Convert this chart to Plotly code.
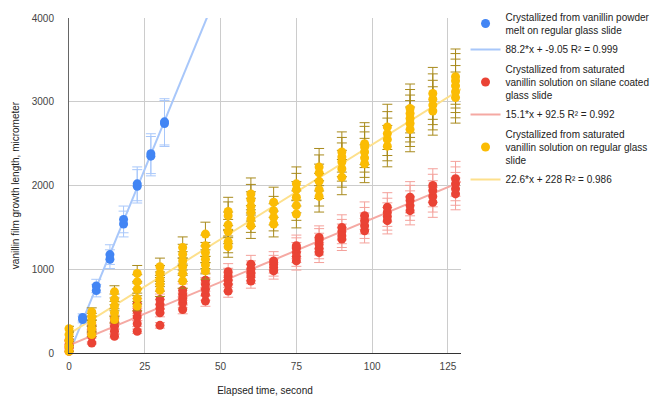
import plotly.graph_objects as go

# ---------------- data ----------------
blue_times = [4.5, 9, 13.5, 18, 22.5, 27, 31.5]
blue_values = [[400, 425], [745, 800], [1120, 1175], [1540, 1595], [1990, 2020], [2350, 2380], [2740, 2760]]

ry_times = [0, 7.5, 15, 22.5, 30, 37.5, 45, 52.5, 60, 67.5, 75, 82.5, 90, 97.5, 105, 112.5, 120, 127.5]
red_values = [
    [20, 60, 100, 150],
    [120, 200, 260, 310],
    [200, 260, 320, 370, 410],
    [260, 350, 430, 500, 590],
    [330, 480, 530, 580, 640],
    [520, 600, 650, 700, 750],
    [620, 700, 760, 820, 870],
    [740, 820, 870, 920, 970],
    [860, 920, 960, 1000, 1060],
    [980, 1020, 1060, 1100],
    [1100, 1150, 1200, 1250, 1280],
    [1200, 1250, 1300, 1350, 1380],
    [1360, 1400, 1450, 1500],
    [1460, 1520, 1580, 1640],
    [1580, 1630, 1680, 1740],
    [1700, 1760, 1820, 1860],
    [1800, 1870, 1940, 2000],
    [1900, 1960, 2020, 2080],
]
yellow_values = [
    [20, 80, 150, 220, 290],
    [220, 290, 360, 430, 490],
    [400, 480, 560, 640, 730],
    [560, 650, 760, 850, 950],
    [750, 820, 880, 950, 1030],
    [860, 950, 1030, 1100, 1180, 1260],
    [980, 1050, 1120, 1200, 1280, 1420],
    [1270, 1330, 1450, 1530, 1640, 1690],
    [1520, 1600, 1680, 1750, 1830, 1900],
    [1540, 1620, 1700, 1800],
    [1660, 1760, 1860, 1950, 2020],
    [1870, 1950, 2050, 2150, 2220],
    [2100, 2200, 2280, 2340, 2400],
    [2260, 2330, 2400, 2460, 2500],
    [2470, 2550, 2620, 2700],
    [2670, 2740, 2800, 2860, 2920],
    [2890, 2960, 3030, 3100],
    [3050, 3120, 3190, 3250, 3300],
]
error_percent = 10

blue_fit = (88.2, -9.05)
red_fit = (15.1, 92.5)
yellow_fit = (22.6, 228)

series_names = [
    "Crystallized from vanillin powder<br>melt on regular glass slide",
    "Crystallized from saturated<br>vanillin solution on silane coated<br>glass slide",
    "Crystallized from saturated<br>vanillin solution on regular glass<br>slide",
]
fit_names = [
    "88.2*x + -9.05 R² = 0.999",
    "15.1*x + 92.5 R² = 0.992",
    "22.6*x + 228 R² = 0.986",
]
x_ticks = [0, 25, 50, 75, 100, 125]
y_ticks = [0, 1000, 2000, 3000, 4000]
x_max = 129.3
y_max = 4000

# ---------------- styling ----------------
FONT = "Liberation Sans, Arial, sans-serif"
colors = ["#4285F4", "#EA4335", "#FBBC04"]
fit_colors = ["#A8C7FA", "#F5A9A3", "#FDE08C"]
err_colors = ["#A8C7FA", "#F4A19B", "#A88A1C"]


def flatten(times, values):
    xs, ys = [], []
    for t, vals in zip(times, values):
        for v in vals:
            xs.append(t)
            ys.append(v)
    return xs, ys


fig = go.Figure()

fits = [blue_fit, red_fit, yellow_fit]
# trendlines first (drawn beneath points)
for i, (m, b) in enumerate(fits):
    fx = [0, x_max]
    fy = [m * x + b for x in fx]
    fig.add_trace(go.Scatter(
        x=fx, y=fy, mode="lines", name=fit_names[i],
        line=dict(color=fit_colors[i], width=2),
        legendrank=2 * i + 2, legendgroup="f%d" % i,
        hoverinfo="skip",
    ))

datasets = [(blue_times, blue_values), (ry_times, red_values), (ry_times, yellow_values)]
for i, (t, v) in enumerate(datasets):
    xs, ys = flatten(t, v)
    fig.add_trace(go.Scatter(
        x=xs, y=ys, mode="markers", name=series_names[i],
        marker=dict(color=colors[i], size=9, line=dict(width=0)),
        error_y=dict(type="percent", value=error_percent, color=err_colors[i],
                     thickness=1, width=5),
        legendrank=2 * i + 1, legendgroup="s%d" % i,
        cliponaxis=False,
    ))

fig.update_layout(
    width=652, height=396,
    margin=dict(l=69, r=191, t=18, b=43, autoexpand=False),
    paper_bgcolor="white", plot_bgcolor="white",
    font=dict(family=FONT, size=10, color="#222"),
    showlegend=True,
    legend=dict(
        xref="container", yref="container", x=0.714, y=0.99,
        xanchor="left", yanchor="top",
        font=dict(family=FONT, size=10, color="#222"),
        tracegroupgap=2, itemwidth=30,
        bgcolor="rgba(0,0,0,0)",
    ),
    xaxis=dict(
        range=[0, x_max], tickvals=x_ticks, ticks="", automargin=False,
        showgrid=True, gridcolor="#CCCCCC", gridwidth=1,
        zeroline=False, showline=True, linecolor="#333333", linewidth=1,
        ticklabelstandoff=4,
        tickfont=dict(family=FONT, size=10, color="#444"),
        title=dict(text="Elapsed time, second", standoff=21,
                   font=dict(family=FONT, size=10, color="#222")),
    ),
    yaxis=dict(
        range=[0, y_max], tickvals=y_ticks, ticks="", automargin=False,
        showgrid=True, gridcolor="#CCCCCC", gridwidth=1,
        zeroline=False, showline=True, linecolor="#666666", linewidth=1,
        ticklabelstandoff=12,
        tickfont=dict(family=FONT, size=10, color="#444"),
        title=dict(text="vanillin film growth length, micrometer", standoff=10,
                   font=dict(family=FONT, size=10, color="#222")),
    ),
)

fig.write_html("out.html", config={"displayModeBar": False},
               post_script="document.body.style.margin='0';")
